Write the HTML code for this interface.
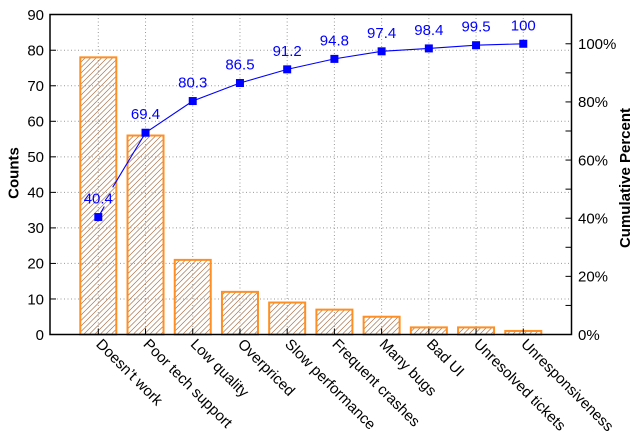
<!DOCTYPE html>
<html><head><meta charset="utf-8"><style>
html,body{margin:0;padding:0;background:#fff;}
svg{display:block;}
text{font-family:"Liberation Sans",Arial,sans-serif;}
</style></head><body>
<svg width="641" height="444" viewBox="0 0 641 444" xmlns="http://www.w3.org/2000/svg">
<defs>
<pattern id="h" patternUnits="userSpaceOnUse" width="5.5" height="5.5">
<path d="M0,5.5 L5.5,0 M-1,1 L1,-1 M4.5,6.5 L6.5,4.5" stroke="#a8744a" stroke-width="0.7"/>
</pattern>
</defs>
<rect width="641" height="444" fill="#fff"/>
<!-- grid -->
<g stroke="#999" stroke-width="1" stroke-dasharray="1,2.5">
<line x1="50" y1="298.97" x2="571.5" y2="298.97"/>
<line x1="50" y1="263.43" x2="571.5" y2="263.43"/>
<line x1="50" y1="227.9" x2="571.5" y2="227.9"/>
<line x1="50" y1="192.37" x2="571.5" y2="192.37"/>
<line x1="50" y1="156.83" x2="571.5" y2="156.83"/>
<line x1="50" y1="121.3" x2="571.5" y2="121.3"/>
<line x1="50" y1="85.77" x2="571.5" y2="85.77"/>
<line x1="50" y1="50.23" x2="571.5" y2="50.23"/>
<line x1="98.3" y1="14.5" x2="98.3" y2="334.5"/>
<line x1="145.52" y1="14.5" x2="145.52" y2="334.5"/>
<line x1="192.74" y1="14.5" x2="192.74" y2="334.5"/>
<line x1="239.96" y1="14.5" x2="239.96" y2="334.5"/>
<line x1="287.18" y1="14.5" x2="287.18" y2="334.5"/>
<line x1="334.4" y1="14.5" x2="334.4" y2="334.5"/>
<line x1="381.62" y1="14.5" x2="381.62" y2="334.5"/>
<line x1="428.84" y1="14.5" x2="428.84" y2="334.5"/>
<line x1="476.06" y1="14.5" x2="476.06" y2="334.5"/>
<line x1="523.28" y1="14.5" x2="523.28" y2="334.5"/>
</g>
<!-- bars -->
<g fill="url(#h)" stroke="#ff8f22" stroke-width="2">
<rect x="80.3" y="57.34" width="36" height="277.16"/>
<rect x="127.52" y="135.52" width="36" height="198.98"/>
<rect x="174.74" y="259.88" width="36" height="74.62"/>
<rect x="221.96" y="291.86" width="36" height="42.64"/>
<rect x="269.18" y="302.52" width="36" height="31.98"/>
<rect x="316.4" y="309.63" width="36" height="24.87"/>
<rect x="363.62" y="316.73" width="36" height="17.77"/>
<rect x="410.84" y="327.39" width="36" height="7.11"/>
<rect x="458.06" y="327.39" width="36" height="7.11"/>
<rect x="505.28" y="330.95" width="36" height="3.55"/>
</g>
<!-- ticks -->
<g stroke="#000" stroke-width="1">
<line x1="50" y1="298.97" x2="56" y2="298.97"/>
<line x1="50" y1="263.43" x2="56" y2="263.43"/>
<line x1="50" y1="227.9" x2="56" y2="227.9"/>
<line x1="50" y1="192.37" x2="56" y2="192.37"/>
<line x1="50" y1="156.83" x2="56" y2="156.83"/>
<line x1="50" y1="121.3" x2="56" y2="121.3"/>
<line x1="50" y1="85.77" x2="56" y2="85.77"/>
<line x1="50" y1="50.23" x2="56" y2="50.23"/>
<line x1="565.5" y1="305.43" x2="571.5" y2="305.43"/>
<line x1="565.5" y1="276.35" x2="571.5" y2="276.35"/>
<line x1="565.5" y1="247.28" x2="571.5" y2="247.28"/>
<line x1="565.5" y1="218.21" x2="571.5" y2="218.21"/>
<line x1="565.5" y1="189.14" x2="571.5" y2="189.14"/>
<line x1="565.5" y1="160.06" x2="571.5" y2="160.06"/>
<line x1="565.5" y1="130.99" x2="571.5" y2="130.99"/>
<line x1="565.5" y1="101.92" x2="571.5" y2="101.92"/>
<line x1="565.5" y1="72.85" x2="571.5" y2="72.85"/>
<line x1="565.5" y1="43.77" x2="571.5" y2="43.77"/>
<line x1="98.3" y1="334.5" x2="98.3" y2="328.5"/>
<line x1="145.52" y1="334.5" x2="145.52" y2="328.5"/>
<line x1="192.74" y1="334.5" x2="192.74" y2="328.5"/>
<line x1="239.96" y1="334.5" x2="239.96" y2="328.5"/>
<line x1="287.18" y1="334.5" x2="287.18" y2="328.5"/>
<line x1="334.4" y1="334.5" x2="334.4" y2="328.5"/>
<line x1="381.62" y1="334.5" x2="381.62" y2="328.5"/>
<line x1="428.84" y1="334.5" x2="428.84" y2="328.5"/>
<line x1="476.06" y1="334.5" x2="476.06" y2="328.5"/>
<line x1="523.28" y1="334.5" x2="523.28" y2="328.5"/>
</g>
<!-- frame -->
<rect x="50" y="14.5" width="521.5" height="320" fill="none" stroke="#000" stroke-width="1.5"/>
<!-- cumulative line -->
<g stroke="#0000ff" stroke-width="1.1" fill="none">
<line x1="98.3" y1="217.05" x2="104.3" y2="206.5"/>
<line x1="112.7" y1="187.3" x2="145.52" y2="132.73"/>
<polyline points="145.52,132.73 192.74,101.04 239.96,83.02 287.18,69.35 334.4,58.89 381.62,51.33 428.84,48.42 476.06,45.22 523.28,43.77"/>
</g>
<g fill="#0000ff">
<rect x="94.3" y="213.05" width="8" height="8"/>
<rect x="141.52" y="128.73" width="8" height="8"/>
<rect x="188.74" y="97.04" width="8" height="8"/>
<rect x="235.96" y="79.02" width="8" height="8"/>
<rect x="283.18" y="65.35" width="8" height="8"/>
<rect x="330.4" y="54.89" width="8" height="8"/>
<rect x="377.62" y="47.33" width="8" height="8"/>
<rect x="424.84" y="44.42" width="8" height="8"/>
<rect x="472.06" y="41.22" width="8" height="8"/>
<rect x="519.28" y="39.77" width="8" height="8"/>
</g>
<g fill="#0000ff" font-size="15" text-anchor="middle">
<text x="98.3" y="203.5">40.4</text>
<text x="145.52" y="119.2">69.4</text>
<text x="192.74" y="87.5">80.3</text>
<text x="239.96" y="69.5">86.5</text>
<text x="287.18" y="55.85">91.2</text>
<text x="334.4" y="45.4">94.8</text>
<text x="381.62" y="37.8">97.4</text>
<text x="428.84" y="34.9">98.4</text>
<text x="476.06" y="31.7">99.5</text>
<text x="523.28" y="30.3">100</text>
</g>
<!-- left tick labels -->
<g font-size="15" text-anchor="end" fill="#000">
<text x="44" y="339.8">0</text>
<text x="44" y="304.3">10</text>
<text x="44" y="268.7">20</text>
<text x="44" y="233.2">30</text>
<text x="44" y="197.7">40</text>
<text x="44" y="162.1">50</text>
<text x="44" y="126.6">60</text>
<text x="44" y="91.1">70</text>
<text x="44" y="55.5">80</text>
<text x="44" y="20">90</text>
</g>
<!-- right tick labels -->
<g font-size="15" fill="#000">
<text x="578" y="339.8">0%</text>
<text x="578" y="281.7">20%</text>
<text x="578" y="223.5">40%</text>
<text x="578" y="165.4">60%</text>
<text x="578" y="107.2">80%</text>
<text x="578" y="49.1">100%</text>
</g>
<!-- x labels -->
<g font-size="15" fill="#000">
<text x="95.3" y="345" transform="rotate(45 95.3 345)">Doesn’t work</text>
<text x="142.52" y="345" transform="rotate(45 142.52 345)">Poor tech support</text>
<text x="189.74" y="345" transform="rotate(45 189.74 345)">Low quality</text>
<text x="236.96" y="345" transform="rotate(45 236.96 345)">Overpriced</text>
<text x="284.18" y="345" transform="rotate(45 284.18 345)">Slow performance</text>
<text x="331.4" y="345" transform="rotate(45 331.4 345)">Frequent crashes</text>
<text x="378.62" y="345" transform="rotate(45 378.62 345)">Many bugs</text>
<text x="425.84" y="345" transform="rotate(45 425.84 345)">Bad UI</text>
<text x="473.06" y="345" transform="rotate(45 473.06 345)">Unresolved tickets</text>
<text x="520.28" y="345" transform="rotate(45 520.28 345)">Unresponsiveness</text>
</g>
<!-- axis titles -->
<text x="18.5" y="173" font-size="15" font-weight="bold" text-anchor="middle" transform="rotate(-90 18.5 173)">Counts</text>
<text x="630" y="178" font-size="15" font-weight="bold" text-anchor="middle" transform="rotate(-90 630 178)">Cumulative Percent</text>
</svg>
</body></html>
